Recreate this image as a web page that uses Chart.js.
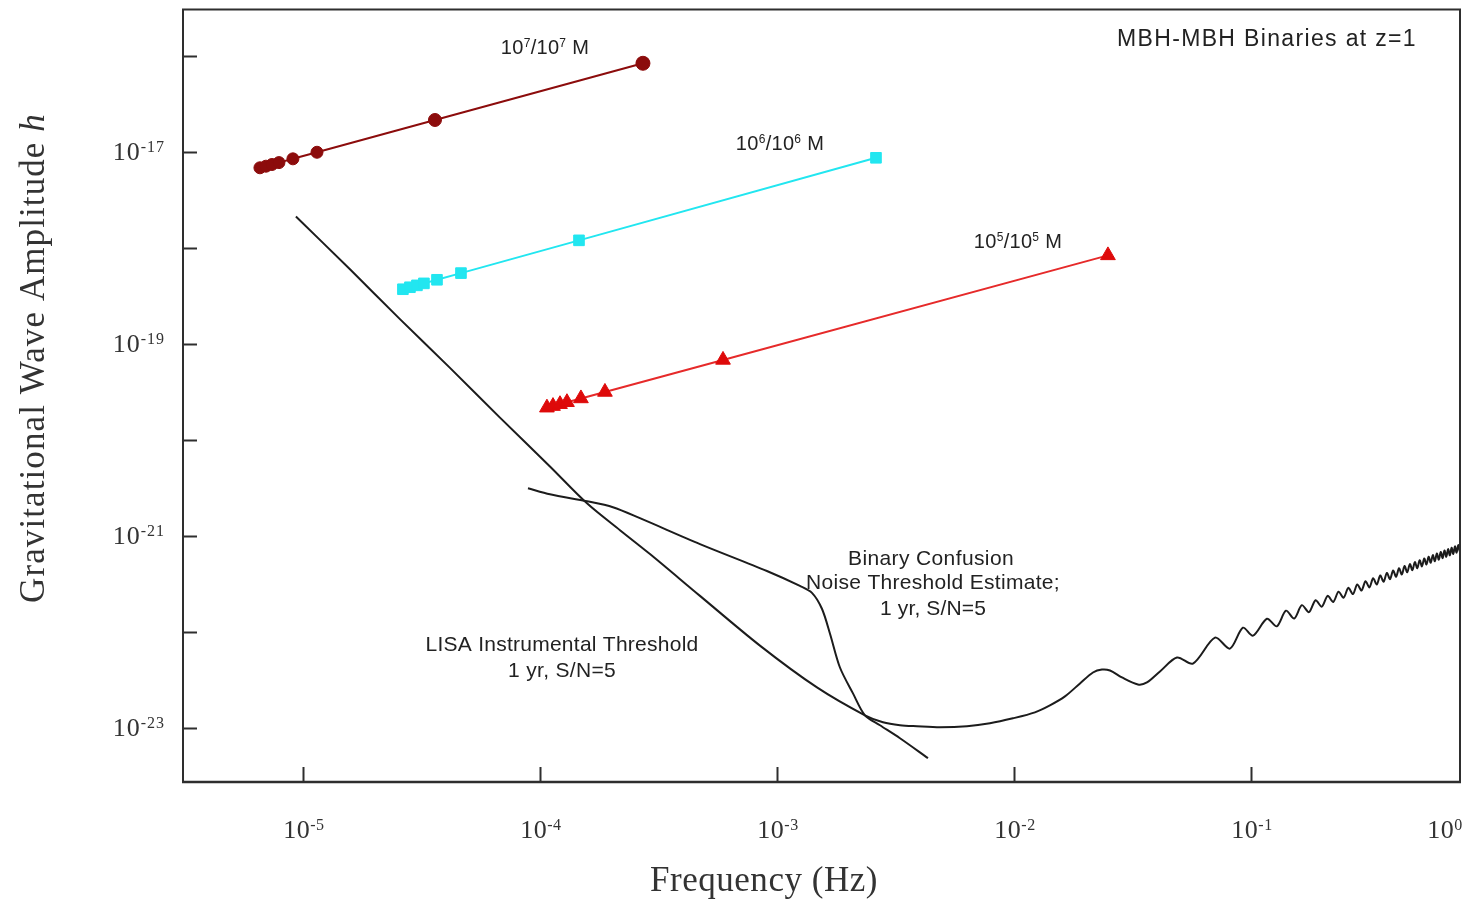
<!DOCTYPE html>
<html>
<head>
<meta charset="utf-8">
<script src="https://cdn.jsdelivr.net/npm/chart.js@4/dist/chart.umd.min.js"></script>
<style>
html,body{margin:0;padding:0;background:#ffffff;}
#wrap{width:1476px;height:905px;position:relative;}
</style>
</head>
<body>
<div id="wrap"><canvas id="c" width="1476" height="905"></canvas></div>
<script>
// ---------------- DATA ----------------
// Axis ranges
const freqRange = [3.118e-6, 0.762];
const ampRange  = [2.74e-24, 3.055e-16];

// Tick exponents
const xTickExps   = [-5, -4, -3, -2, -1];
const xEdgeExp    = 0;                       // label written at the right edge
const yTickExps   = [-16, -17, -18, -19, -20, -21, -22, -23];
const yLabelExps  = [-17, -19, -21, -23];

// Texts
const xTitle = 'Frequency (Hz)';
const yTitle = 'Gravitational Wave Amplitude ';
const yTitleItalic = 'h';
const panelTitle = 'MBH-MBH Binaries at z=1';
const lisaLabel = ['LISA Instrumental Threshold', '1 yr, S/N=5'];
const confLabel = ['Binary Confusion', 'Noise Threshold Estimate;', '1 yr, S/N=5'];
const massExps = ['7', '6', '5'];

// 10^7/10^7 M binaries
const m7Freq = [6.584e-6, 6.98e-6, 7.4e-6, 7.92e-6, 9.07e-6, 1.146e-5, 3.606e-5, 2.72e-4];
const m7Amp  = [6.857e-18, 7.124e-18, 7.42e-18, 7.765e-18, 8.5e-18, 9.95e-18, 2.158e-17, 8.41e-17];

// 10^6/10^6 M binaries
const m6Freq = [2.641e-5, 2.828e-5, 3.027e-5, 3.239e-5, 3.677e-5, 4.642e-5, 1.461e-4, 2.617e-3];
const m6Amp  = [3.724e-19, 3.906e-19, 4.087e-19, 4.286e-19, 4.672e-19, 5.483e-19, 1.203e-18, 8.71e-18];

// 10^5/10^5 M binaries
const m5Freq = [1.07e-4, 1.135e-4, 1.215e-4, 1.3e-4, 1.489e-4, 1.88e-4, 5.92e-4, 2.492e-2];
const m5Amp  = [2.173e-20, 2.257e-20, 2.362e-20, 2.477e-20, 2.712e-20, 3.168e-20, 6.833e-20, 8.386e-19];

// LISA instrumental threshold (1 yr, S/N=5)
const lisaFreq = [
  9.34e-6, 1.579e-5, 2.566e-5, 4.172e-5, 6.78e-5, 1.102e-4, 1.579e-4, 2.176e-4, 2.912e-4, 4.733e-4,
  8.477e-4, 1.475e-3, 2.351e-3,
  2.801e-3, 3.304e-3, 3.897e-3, 4.873e-3, 6.334e-3, 7.92e-3, 9.9e-3, 1.226e-2, 1.418e-2, 1.641e-2,
  1.899e-2, 2.154e-2, 2.351e-2, 2.542e-2, 2.855e-2, 3.335e-2, 3.64e-2, 4.13e-2, 4.873e-2, 5.69e-2,
  7.05e-2, 8.15e-2, 9.25e-2, 0.102, 0.1168,
  0.1285, 0.1405, 0.1522, 0.1639, 0.1756, 0.1873, 0.199, 0.2107, 0.2224, 0.2341,
  0.2458, 0.2575, 0.2692, 0.2809, 0.2926, 0.3043, 0.316, 0.3277, 0.3394, 0.3511,
  0.3628, 0.3745, 0.3862, 0.3979, 0.4096, 0.4213, 0.433, 0.4447, 0.4564, 0.4681,
  0.4798, 0.4915, 0.5032, 0.5149, 0.5266, 0.5383, 0.55, 0.5617, 0.5734, 0.5851,
  0.5968, 0.6085, 0.6202, 0.6319, 0.6436, 0.6553, 0.667, 0.6787, 0.6904, 0.7021,
  0.7138, 0.7255, 0.7372, 0.7489, 0.7606
];
const lisaAmp = [
  2.13e-18, 6.004e-19, 1.819e-19, 5.645e-20, 1.711e-20, 5.31e-21, 2.194e-21, 1.151e-21, 6.495e-22, 2.381e-22,
  7.22e-23, 2.648e-23, 1.356e-23,
  1.148e-23, 1.069e-23, 1.043e-23, 1.019e-23, 1.043e-23, 1.121e-23, 1.263e-23, 1.457e-23, 1.722e-23, 2.135e-23,
  2.913e-23, 3.788e-23, 4.07e-23, 3.974e-23, 3.362e-23, 2.844e-23, 2.983e-23, 3.88e-23, 5.42e-23, 4.696e-23,
  8.74e-23, 6.72e-23, 1.109e-22, 9.17e-23, 1.375e-22,
  1.147e-22, 1.669e-22, 1.384e-22, 1.904e-22, 1.61e-22, 2.142e-22, 1.839e-22, 2.381e-22, 2.058e-22, 2.632e-22,
  2.275e-22, 2.887e-22, 2.485e-22, 3.135e-22, 2.701e-22, 3.381e-22, 2.918e-22, 3.633e-22, 3.127e-22, 3.885e-22,
  3.337e-22, 4.128e-22, 3.554e-22, 4.38e-22, 3.765e-22, 4.619e-22, 3.983e-22, 4.869e-22, 4.193e-22, 5.105e-22,
  4.41e-22, 5.354e-22, 4.62e-22, 5.602e-22, 4.829e-22, 5.836e-22, 5.05e-22, 6.083e-22, 5.257e-22, 6.33e-22,
  5.466e-22, 6.575e-22, 5.675e-22, 6.823e-22, 5.884e-22, 7.07e-22, 6.092e-22, 7.315e-22, 6.3e-22, 7.56e-22,
  6.506e-22, 7.804e-22, 6.712e-22, 8.05e-22, 6.92e-22
];

// Binary confusion noise threshold estimate
const confFreq = [8.9e-5, 1.102e-4, 1.579e-4, 2.032e-4, 2.641e-4, 4.733e-4, 9.07e-4, 1.25e-3, 1.405e-3, 1.548e-3,
  1.674e-3, 1.844e-3, 2.093e-3, 2.351e-3, 2.72e-3, 3.304e-3, 4.336e-3];
const confAmp  = [3.14e-21, 2.72e-21, 2.302e-21, 1.995e-21, 1.534e-21, 8.245e-22, 4.326e-22, 3.025e-22, 2.559e-22, 1.747e-22,
  9.61e-23, 4.27e-23, 2.294e-23, 1.356e-23, 1.069e-23, 7.83e-24, 4.86e-24];

// ---------------- helpers ----------------
function pts(fx, hy) { return fx.map((f, i) => ({x: f, y: hy[i]})); }

function drawRich(ctx, segs, x, y, align, fonts, raise, spacing) {
  ctx.save();
  ctx.textAlign = 'left';
  ctx.textBaseline = 'alphabetic';
  try { ctx.letterSpacing = (spacing || 0) + 'px'; } catch (e) {}
  let w = 0;
  for (const s of segs) { ctx.font = fonts[s[1]]; w += ctx.measureText(s[0]).width; }
  let cx = align === 'center' ? x - w / 2 : (align === 'right' ? x - w : x);
  for (const s of segs) {
    ctx.font = fonts[s[1]];
    ctx.fillText(s[0], cx, s[1] === 'sup' ? y - raise : y);
    cx += ctx.measureText(s[0]).width;
  }
  ctx.restore();
  return w;
}

function drawFit(ctx, text, x, y, targetW, font, align) {
  ctx.save();
  ctx.font = font;
  ctx.textAlign = 'left';
  ctx.textBaseline = 'alphabetic';
  try { ctx.letterSpacing = '0px'; } catch (e) {}
  const w0 = ctx.measureText(text).width;
  const ls = (targetW - w0) / Math.max(1, text.length);
  try { ctx.letterSpacing = ls + 'px'; } catch (e) {}
  const w = ctx.measureText(text).width;
  const sx = align === 'center' ? x - w / 2 : (align === 'right' ? x - w : x);
  ctx.fillText(text, sx, y);
  ctx.restore();
}

// ---------------- decoration plugin ----------------
const decor = {
  id: 'decor',
  afterDraw(chart) {
    const ctx = chart.ctx;
    const a = chart.chartArea;
    const xs = chart.scales.x, ys = chart.scales.y;
    ctx.save();
    // frame
    ctx.strokeStyle = '#2e2e2e';
    ctx.lineWidth = 2;
    ctx.strokeRect(a.left, a.top, a.right - a.left, a.bottom - a.top);
    ctx.lineWidth = 2.5;
    ctx.beginPath(); ctx.moveTo(a.left - 1, a.bottom); ctx.lineTo(a.right + 1, a.bottom); ctx.stroke();
    // ticks (inward)
    ctx.lineWidth = 2;
    for (const e of yTickExps) {
      const py = Math.round(ys.getPixelForValue(Math.pow(10, e))) + 0.5;
      ctx.beginPath(); ctx.moveTo(a.left, py); ctx.lineTo(a.left + 14, py); ctx.stroke();
    }
    for (const e of xTickExps) {
      const px = Math.round(xs.getPixelForValue(Math.pow(10, e))) + 0.5;
      ctx.beginPath(); ctx.moveTo(px, a.bottom); ctx.lineTo(px, a.bottom - 15); ctx.stroke();
    }
    // tick labels
    ctx.fillStyle = '#333';
    const tf = {base: '26px "Liberation Serif"', sup: '16px "Liberation Serif"'};
    for (const e of yLabelExps) {
      const py = ys.getPixelForValue(Math.pow(10, e));
      drawRich(ctx, [['10', 'base'], [String(e), 'sup']], 165, py + 8, 'right', tf, 8, 1);
    }
    for (const e of xTickExps) {
      const px = xs.getPixelForValue(Math.pow(10, e));
      drawRich(ctx, [['10', 'base'], [String(e), 'sup']], px + 1, 838, 'center', tf, 8, 0.5);
    }
    drawRich(ctx, [['10', 'base'], [String(xEdgeExp), 'sup']], a.right - 15, 838, 'center', tf, 8, 0.5);

    // axis titles
    ctx.fillStyle = '#333';
    drawFit(ctx, xTitle, 764, 891, 228, '35px "Liberation Serif"', 'center');
    ctx.save();
    ctx.translate(44, 358);
    ctx.rotate(-Math.PI / 2);
    drawRich(ctx, [[yTitle, 'base'], [yTitleItalic, 'it']], 0, 0, 'center',
      {base: '35px "Liberation Serif"', it: 'italic 35px "Liberation Serif"'}, 0, 1.1);
    ctx.restore();

    // annotations
    ctx.fillStyle = '#222';
    const af = '21px "Liberation Sans"';
    drawFit(ctx, panelTitle, 1267, 46, 300, '23px "Liberation Sans"', 'center');
    drawFit(ctx, lisaLabel[0], 562, 651, 273, af, 'center');
    drawFit(ctx, lisaLabel[1], 562, 677, 108, af, 'center');
    drawFit(ctx, confLabel[0], 931, 565, 166, af, 'center');
    drawFit(ctx, confLabel[1], 933, 589, 254, af, 'center');
    drawFit(ctx, confLabel[2], 933, 615, 106, af, 'center');
    const mf = {base: '20px "Liberation Sans"', sup: '12px "Liberation Sans"'};
    const massPos = [[545, 54], [780, 150], [1018, 248]];
    massExps.forEach((m, i) => {
      drawRich(ctx, [['10', 'base'], [m, 'sup'], ['/10', 'base'], [m, 'sup'], [' M', 'base']],
        massPos[i][0], massPos[i][1], 'center', mf, 7, 0.3);
    });
    ctx.restore();
  }
};

// ---------------- chart ----------------
const ctx = document.getElementById('c').getContext('2d');
new Chart(ctx, {
  type: 'scatter',
  data: {
    datasets: [
      {
        label: 'LISA Instrumental Threshold',
        data: pts(lisaFreq, lisaAmp),
        showLine: true, borderColor: '#1c1c1c', borderWidth: 2, pointRadius: 0, tension: 0.3, fill: false
      },
      {
        label: 'Binary Confusion Noise Threshold Estimate',
        data: pts(confFreq, confAmp),
        showLine: true, borderColor: '#1c1c1c', borderWidth: 2, pointRadius: 0, tension: 0.3, fill: false
      },
      {
        label: '10^7/10^7 M',
        data: pts(m7Freq, m7Amp),
        showLine: true, borderColor: '#8c0c0c', backgroundColor: '#8c0c0c', borderWidth: 2,
        pointStyle: 'circle', pointRadius: [6, 6, 6, 6, 6, 6, 6.5, 7], pointBorderWidth: 1, tension: 0
      },
      {
        label: '10^6/10^6 M',
        data: pts(m6Freq, m6Amp),
        showLine: true, borderColor: '#22e6f0', backgroundColor: '#22e6f0', borderWidth: 2,
        pointStyle: 'rect', pointRadius: 7.5, pointBorderWidth: 1, tension: 0
      },
      {
        label: '10^5/10^5 M',
        data: pts(m5Freq, m5Amp),
        showLine: true, borderColor: '#e62a2a', backgroundColor: '#de0a0a', pointBorderColor: '#de0a0a', borderWidth: 2,
        pointStyle: 'triangle', pointRadius: 8.5, pointBorderWidth: 1, tension: 0
      }
    ]
  },
  options: {
    responsive: false,
    animation: false,
    devicePixelRatio: 1,
    layout: {padding: {left: 183, right: 16, top: 6, bottom: 123}},
    plugins: {legend: {display: false}, tooltip: {enabled: false}},
    scales: {
      x: {type: 'logarithmic', min: freqRange[0], max: freqRange[1], display: false},
      y: {type: 'logarithmic', min: ampRange[0], max: ampRange[1], display: false}
    }
  },
  plugins: [decor]
});
</script>
</body>
</html>
